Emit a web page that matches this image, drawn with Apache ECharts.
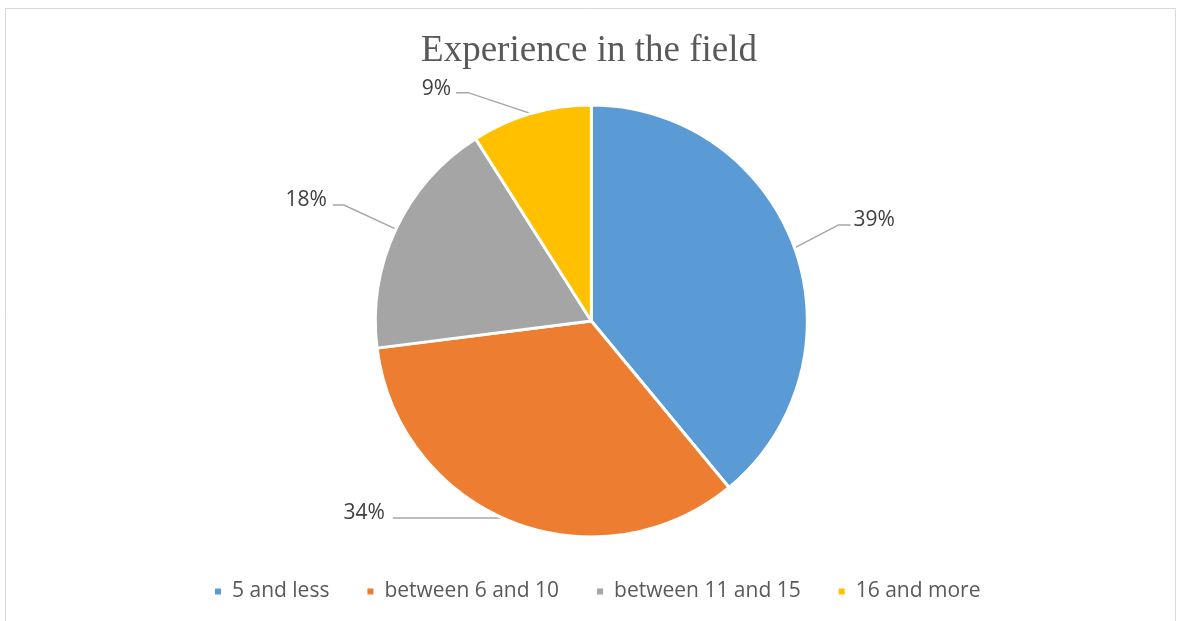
<!DOCTYPE html>
<html>
<head>
<meta charset="utf-8">
<script src="https://cdn.jsdelivr.net/npm/echarts@6/dist/echarts.min.js"></script>
<style>
html,body{margin:0;padding:0;background:#fff;}
#c{width:1178px;height:621px;}
</style>
</head>
<body>
<div id="c"></div>
<script>
const titleText = 'Experience in the field';
const categories = ['5 and less', 'between 6 and 10', 'between 11 and 15', '16 and more'];
const values = [39, 34, 18, 9];
const colors = ['#5B9BD5', '#ED7D31', '#A5A5A5', '#FFC000'];

// leader-line layout (offsets from the library's anchor point on the slice edge)
function leaderLayout(params) {
  const cfg = {
    0: {bend: [44, -23], end: [56, -23], label: [59, -28], align: 'left'},
    1: {bend: [-6, -4], end: [-119, -4], label: [-127, -9], align: 'right'},
    2: {bend: [-52, -24], end: [-63, -24], label: [-69, -29], align: 'right'},
    3: {bend: [-63, -21], end: [-75, -21], label: [-80, -25], align: 'right'}
  }[params.dataIndex];
  const p0 = params.labelLinePoints ? params.labelLinePoints[0] : null;
  if (!cfg || !p0) return {};
  return {
    x: p0[0] + cfg.label[0],
    y: p0[1] + cfg.label[1],
    align: cfg.align,
    verticalAlign: 'middle',
    labelLinePoints: [
      [p0[0], p0[1]],
      [p0[0] + cfg.bend[0], p0[1] + cfg.bend[1]],
      [p0[0] + cfg.end[0], p0[1] + cfg.end[1]]
    ]
  };
}

const chart = echarts.init(document.getElementById('c'), null, {renderer: 'canvas'});
chart.setOption({
  backgroundColor: '#ffffff',
  animation: false,
  color: colors,
  graphic: [{
    type: 'rect',
    shape: {x: 5.5, y: 8.5, width: 1170, height: 640},
    style: {fill: 'none', stroke: '#d9d9d9', lineWidth: 1},
    silent: true, z: -1
  }],
  title: {
    text: titleText,
    left: 'center',
    top: 28,
    textStyle: {fontFamily: 'Liberation Serif', fontSize: 37, fontWeight: 'normal', color: '#595959'}
  },
  legend: {
    bottom: 14,
    left: 208,
    icon: 'rect',
    itemWidth: 8,
    itemHeight: 8,
    itemGap: 36,
    data: categories,
    textStyle: {fontFamily: 'Open Sans', fontSize: 21, color: '#595959', padding: [0, 0, 0, 5]}
  },
  series: [{
    type: 'pie',
    center: ['50.2%', '51.7%'],
    radius: 216,
    startAngle: 90,
    clockwise: true,
    itemStyle: {borderColor: '#ffffff', borderWidth: 3},
    label: {
      show: true,
      position: 'outside',
      formatter: '{d}%',
      fontFamily: 'Open Sans',
      fontSize: 21,
      color: '#404040'
    },
    labelLine: {
      show: true,
      length: 30,
      length2: 15,
      lineStyle: {color: '#a6a6a6', width: 1.5}
    },
    labelLayout: leaderLayout,
    emphasis: {disabled: true},
    data: categories.map((n, i) => ({name: n, value: values[i]}))
  }]
});
</script>
</body>
</html>
